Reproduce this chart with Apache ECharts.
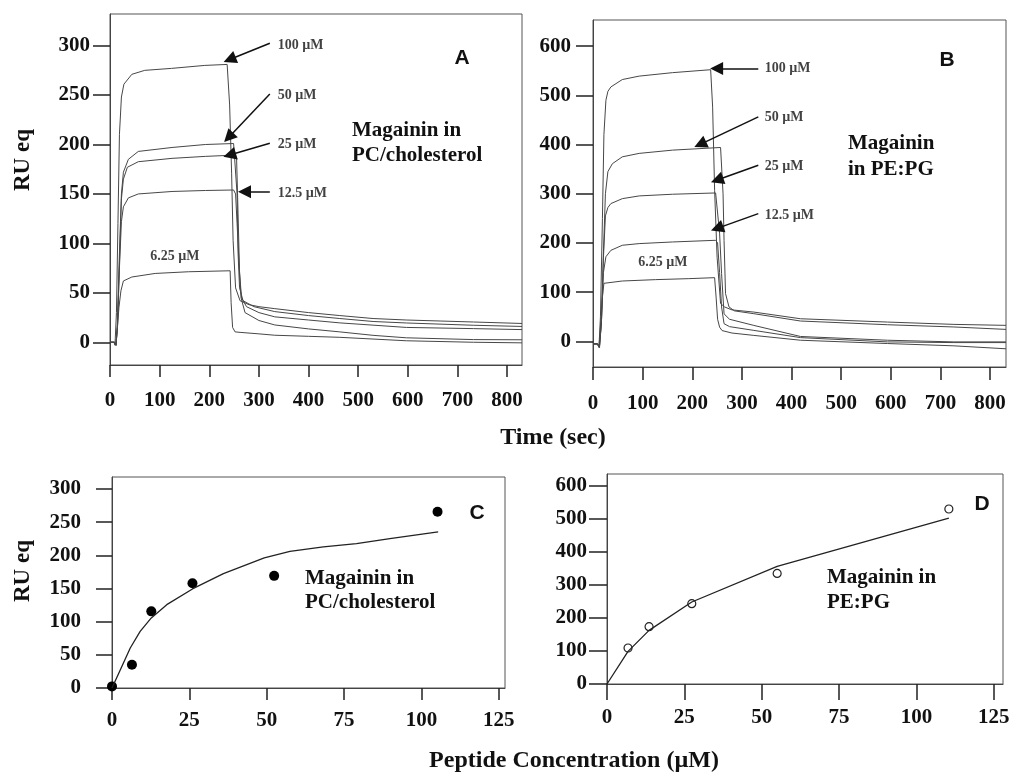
<!DOCTYPE html>
<html>
<head>
<meta charset="utf-8">
<script src="https://cdn.jsdelivr.net/npm/echarts@6/dist/echarts.min.js"></script>
<style>
  html, body { margin: 0; padding: 0; background: #fff; }
  #chart { width: 1013px; height: 773px; }
</style>
</head>
<body>
<div id="chart"></div>
<script>
// ---- 数据：传感图 A (PC/cholesterol)，[时间 s, RU]
const curveA100 = [[0,0],[8,0],[10,-3],[13,30],[16,120],[19,210],[23,248],[28,261],[44,271],[70,275],[124,277],[191,280],[236,281],[241,240],[245,171],[248,103],[253,55],[262,42],[280,38],[300,36],[332,34],[400,30],[463,27],[530,24],[597,22.5],[665,21.5],[732,20.5],[830,19]];
const curveA50 = [[0,0],[9,0],[12,-3],[15,20],[19,90],[23,150],[27,172],[37,185],[57,193],[125,197],[192,200],[249,201],[253,199],[256,150],[258,90],[261,55],[268,42],[290,36],[332,31],[400,27],[463,24],[530,21],[597,19.5],[732,17.2],[830,16]];
const curveA25 = [[0,0],[9,0],[12,-3],[15,15],[19,80],[23,145],[27,165],[35,177],[57,182.6],[125,186],[192,188],[252,189.3],[255,186],[258,130],[261,70],[265,45],[275,36],[300,30],[332,25.7],[400,22.5],[463,19.6],[597,15],[732,13.8],[830,12.8]];
const curveA12 = [[0,0],[9,0],[12,-3],[15,15],[19,75],[23,122],[27,137],[37,146],[57,150],[125,152.5],[192,153.5],[249,154],[253,150],[256,120],[260,80],[264,45],[272,30],[300,22],[332,17.5],[400,13.5],[463,10.5],[530,7],[597,4.5],[732,2.7],[830,2.5]];
const curveA6 = [[0,0],[9,0],[12,-3],[15,15],[18,35],[22,52],[27,62],[44,66],[91,69.6],[158,71.3],[242,72.3],[244,40],[247,15],[252,10.5],[262,10],[300,8.5],[332,7.1],[400,6],[463,5],[597,1.5],[732,0],[830,-0.6]];

// ---- 传感图 B (PE:PG)
const curveB100 = [[0,-5],[9,-5],[12,-12],[15,50],[19,250],[22,420],[26,490],[30,508],[36,517],[59,532],[93,539],[160,546],[237,552],[241,476],[245,307],[250,171],[257,77],[265,70],[280,64],[324,59.6],[418,46],[593,39.3],[727,34.6],[832,32.6]];
const curveB50 = [[0,-5],[9,-5],[13,-12],[17,40],[21,180],[25,300],[30,345],[39,361],[59,375],[93,382],[160,388.6],[257,394],[259,390],[262,300],[264,205],[267,97],[274,70],[285,62],[324,56.3],[418,41.4],[593,33.9],[727,29.3],[832,24.4]];
const curveB25 = [[0,-5],[9,-5],[13,-12],[17,40],[21,170],[25,255],[30,272],[36,280],[59,290],[93,295.6],[160,299],[247,301.6],[251,298],[255,220],[259,138],[264,56],[275,45],[324,32.5],[418,10],[593,2.4],[727,-1],[832,-1]];
const curveB12 = [[0,-5],[9,-5],[13,-12],[17,40],[21,140],[26,172],[36,185],[59,195.3],[93,198.7],[160,202],[247,205.4],[251,200],[255,140],[259,70],[264,36],[275,30],[324,22.4],[418,7.7],[593,-1],[727,-2.4],[832,-2.4]];
const curveB6 = [[0,-5],[9,-5],[12,-12],[15,30],[19,90],[22,118],[59,122.7],[126,125.5],[193,127.5],[245,129.5],[248,90],[251,45],[255,29],[260,22],[280,17],[324,12.2],[418,2.4],[593,-4.3],[727,-9],[832,-15]];

// ---- 浓度曲线 C / D
const concC = [0, 6.45, 12.7, 26, 52.4, 105.2];
const ruC = [2.4, 35, 115.5, 158, 169, 265.5];
const fitConcC = [0, 2.7, 5.9, 9.1, 12.7, 17.7, 26, 36, 49.2, 57.5, 68.3, 79, 89.8, 105.4];
const fitRuC = [0, 27.6, 60.3, 85.4, 105.6, 125.6, 149.3, 172.3, 196, 206, 212.7, 217.6, 225.2, 235.3];
const concD = [6.8, 13.6, 27.4, 55, 110.5];
const ruD = [109, 173.5, 243.2, 335, 530];
const fitConcD = [0, 6.8, 13.6, 27.4, 55, 110.5];
const fitRuD = [0, 98.7, 162.3, 248.3, 356.1, 502.7];

// ---- 刻度
const ticksTime = [0, 100, 200, 300, 400, 500, 600, 700, 800];
const ticksRuA = [0, 50, 100, 150, 200, 250, 300];
const ticksRuB = [0, 100, 200, 300, 400, 500, 600];
const ticksConc = [0, 25, 50, 75, 100, 125];

// ---- 标注（数据坐标）
const concNames = ['100 µM', '50 µM', '25 µM', '12.5 µM', '6.25 µM'];
const labelPosA = [[338, 300.5], [338, 250], [338, 200.5], [338, 151], [81, 87]];
const labelPosB = [[346, 554.6], [346, 455], [346, 355.8], [346, 256.2], [91, 161]];
const arrowsA = [
  [[322, 302.4], [241, 286]],
  [[322, 251.1], [239, 207.2]],
  [[322, 201.3], [241, 189.4]],
  [[322, 152.3], [271, 152.3]]
];
const arrowsB = [
  [[333, 554.6], [249, 554.6]],
  [[333, 456.2], [216, 400.4]],
  [[333, 357.9], [250, 328]],
  [[333, 259.6], [250, 229.7]]
];

const SERIF = '"Liberation Serif", "Times New Roman", serif';
const SANS = '"Liberation Sans", Arial, sans-serif';
const zip = (xs, ys) => xs.map((x, i) => [x, ys[i]]);

function valueAxis(gi, min, max, ticks, tickLen, margin) {
  return {
    type: 'value', gridIndex: gi, min: min, max: max,
    axisLine: { show: true, onZero: false, lineStyle: { color: '#444', width: 1 } },
    axisTick: { show: true, length: tickLen, customValues: ticks, lineStyle: { color: '#222', width: 1.5 } },
    axisLabel: { customValues: ticks, margin: margin, color: '#111', fontFamily: SERIF, fontWeight: 'bold', fontSize: 21 },
    splitLine: { show: false }
  };
}

function trace(gi, data) {
  return {
    type: 'line', xAxisIndex: gi, yAxisIndex: gi, data: data,
    symbol: 'none', silent: true,
    lineStyle: { color: '#474747', width: 1 }
  };
}

function annotations(gi, positions, arrows) {
  return {
    type: 'scatter', xAxisIndex: gi, yAxisIndex: gi, symbolSize: 0, silent: true,
    data: positions.map((p, i) => ({ name: concNames[i], value: p })),
    label: {
      show: true, position: 'right', distance: 0, formatter: '{b}',
      fontFamily: SERIF, fontWeight: 'bold', fontSize: 14, color: '#111'
    },
    markLine: {
      silent: true, animation: false,
      symbol: ['none', 'triangle'], symbolSize: 13,
      label: { show: false },
      lineStyle: { color: '#111', width: 1.5, type: 'solid' },
      itemStyle: { color: '#111' },
      data: arrows.map(a => [{ coord: a[0] }, { coord: a[1] }])
    }
  };
}

function text(x, y, str, font, extra) {
  return Object.assign({
    type: 'text', x: x, y: y, silent: true,
    style: {
      text: str, font: font, fill: '#111',
      align: 'center', verticalAlign: 'middle',
      textAlign: 'center', textVerticalAlign: 'middle'
    }
  }, extra || {});
}

function block(x, y, str, lh) {
  return {
    type: 'text', x: x, y: y, silent: true,
    style: {
      text: str, font: 'bold 21px ' + SERIF, fill: '#111', lineHeight: lh,
      align: 'left', verticalAlign: 'top', textAlign: 'left', textVerticalAlign: 'top'
    }
  };
}

const gridStyle = { show: true, borderColor: '#555', borderWidth: 1, backgroundColor: 'transparent' };

const chart = echarts.init(document.getElementById('chart'));
chart.setOption({
  animation: false,
  backgroundColor: '#fff',
  grid: [
    Object.assign({ left: 110, top: 14, width: 412, height: 351 }, gridStyle),
    Object.assign({ left: 593, top: 20, width: 413, height: 347 }, gridStyle),
    Object.assign({ left: 112, top: 477, width: 393, height: 211 }, gridStyle),
    Object.assign({ left: 607, top: 474, width: 396, height: 210 }, gridStyle)
  ],
  xAxis: [
    valueAxis(0, 0, 830, ticksTime, 12, 25),
    valueAxis(1, 0, 832, ticksTime, 13, 26),
    valueAxis(2, 0, 127, ticksConc, 12, 22),
    valueAxis(3, 0, 128, ticksConc, 16, 23)
  ],
  yAxis: [
    valueAxis(0, -23, 332, ticksRuA, 17, 20),
    valueAxis(1, -52, 653, ticksRuB, 17, 22),
    valueAxis(2, 0, 318, ticksRuA, 16, 31),
    valueAxis(3, 0, 636, ticksRuB, 18, 20)
  ],
  series: [
    trace(0, curveA100), trace(0, curveA50), trace(0, curveA25), trace(0, curveA12), trace(0, curveA6),
    trace(1, curveB100), trace(1, curveB50), trace(1, curveB25), trace(1, curveB12), trace(1, curveB6),
    annotations(0, labelPosA, arrowsA),
    annotations(1, labelPosB, arrowsB),
    {
      type: 'line', xAxisIndex: 2, yAxisIndex: 2, data: zip(fitConcC, fitRuC),
      symbol: 'none', silent: true, lineStyle: { color: '#222', width: 1.3 }
    },
    {
      type: 'scatter', xAxisIndex: 2, yAxisIndex: 2, data: zip(concC, ruC),
      symbol: 'circle', symbolSize: 10, silent: true, itemStyle: { color: '#000', opacity: 1 }
    },
    {
      type: 'line', xAxisIndex: 3, yAxisIndex: 3, data: zip(fitConcD, fitRuD),
      symbol: 'none', silent: true, lineStyle: { color: '#222', width: 1.3 }
    },
    {
      type: 'scatter', xAxisIndex: 3, yAxisIndex: 3, data: zip(concD, ruD),
      symbol: 'circle', symbolSize: 8, silent: true,
      itemStyle: { color: '#fff', borderColor: '#222', borderWidth: 1.2, opacity: 1 }
    }
  ],
  graphic: [
    text(462, 58, 'A', 'bold 21px ' + SANS),
    text(947, 60, 'B', 'bold 21px ' + SANS),
    text(477, 513, 'C', 'bold 21px ' + SANS),
    text(982, 504, 'D', 'bold 21px ' + SANS),
    block(352, 118, 'Magainin in\nPC/cholesterol', 25),
    block(848, 131, 'Magainin\nin PE:PG', 26),
    block(305, 567, 'Magainin in\nPC/cholesterol', 23.5),
    block(827, 565, 'Magainin in\nPE:PG', 25),
    text(23, 160, 'RU eq', 'bold 23px ' + SERIF, { rotation: Math.PI / 2 }),
    text(23, 571, 'RU eq', 'bold 23px ' + SERIF, { rotation: Math.PI / 2 }),
    text(553, 438, 'Time (sec)', 'bold 24px ' + SERIF),
    text(574, 761, 'Peptide Concentration (µM)', 'bold 24px ' + SERIF)
  ]
});
</script>
</body>
</html>
